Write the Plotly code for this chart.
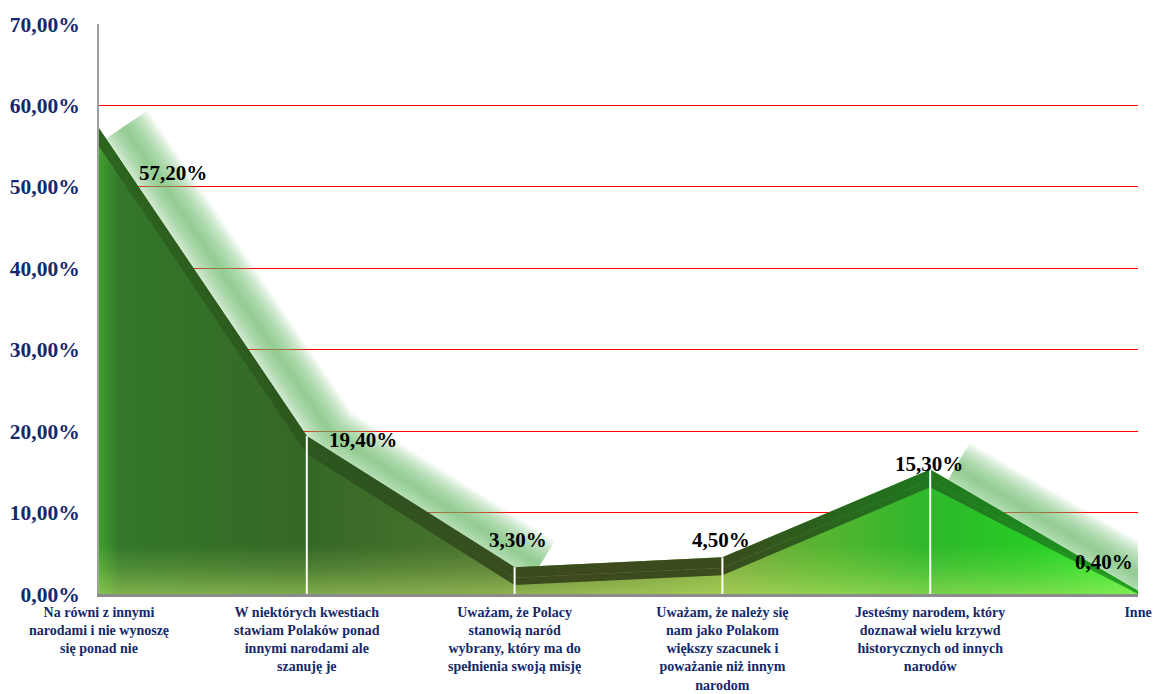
import plotly.graph_objects as go

# Survey answers (x axis) and share of responses in percent
categories = [
    "Na równi z innymi<br>narodami i nie wynoszę<br>się ponad nie",
    "W niektórych kwestiach<br>stawiam Polaków ponad<br>innymi narodami ale<br>szanuję je",
    "Uważam, że Polacy<br>stanowią naród<br>wybrany, który ma do<br>spełnienia swoją misję",
    "Uważam, że należy się<br>nam jako Polakom<br>większy szacunek i<br>poważanie niż innym<br>narodom",
    "Jesteśmy narodem, który<br>doznawał wielu krzywd<br>historycznych od innych<br>narodów",
    "Inne",
]
values = [57.2, 19.4, 3.3, 4.5, 15.3, 0.4]
value_labels = ["57,20%", "19,40%", "3,30%", "4,50%", "15,30%", "0,40%"]

y_ticks = [0, 10, 20, 30, 40, 50, 60, 70]
y_tick_labels = ["0,00%", "10,00%", "20,00%", "30,00%", "40,00%", "50,00%", "60,00%", "70,00%"]

x = list(range(len(values)))
NAVY = "#14296b"
SERIF = "Liberation Serif"

fig = go.Figure()

# Soft light-green glow to the upper right of the falling edges.
# Rising segments get no glow, so the path is broken there with None.
glow_x, glow_y = [], []
for i in range(len(values) - 1):
    if values[i + 1] < values[i]:
        if not glow_x or glow_x[-1] is None:
            glow_x.append(x[i] + 0.12)
            glow_y.append(values[i] + 0.2)
        glow_x.append(x[i + 1] + 0.12)
        glow_y.append(values[i + 1] + 0.2)
    else:
        glow_x.append(None)
        glow_y.append(None)

for width in range(58, 2, -3):
    fig.add_trace(go.Scatter(
        x=glow_x, y=glow_y, mode="lines", connectgaps=False,
        line=dict(color="rgba(110,185,110,0.062)", width=width),
        hoverinfo="skip", showlegend=False,
    ))

# Main area body with a left-to-right colour gradient
fig.add_trace(go.Scatter(
    x=x, y=values, mode="lines", fill="tozeroy",
    line=dict(width=0, color="rgba(0,0,0,0)"),
    fillgradient=dict(
        type="horizontal",
        colorscale=[
            [0.0, "#3fa02d"], [0.02, "#33762a"], [0.2, "#356826"],
            [0.38, "#4c7430"], [0.5, "#6a8d36"], [0.6, "#7ba83c"],
            [0.7, "#55b530"], [0.8, "#2db82a"], [0.9, "#27cc26"],
            [1.0, "#33f033"],
        ],
    ),
    hoverinfo="skip", showlegend=False,
))

# Lighter floor shading near the base (gradient fades out above 6 %)
fig.add_trace(go.Scatter(
    x=x, y=values, mode="lines", fill="tozeroy",
    line=dict(width=0, color="rgba(0,0,0,0)"),
    fillgradient=dict(
        type="vertical", start=0, stop=6,
        colorscale=[
            [0.0, "rgba(200,235,110,0.5)"],
            [0.5, "rgba(200,235,110,0.2)"],
            [1.0, "rgba(200,235,110,0.0)"],
        ],
    ),
    hoverinfo="skip", showlegend=False,
))

# Darker ridge band along the top edge: a solid upper strip and a softer lower one
ridge_scale = [
    [0.0, "#2c641f"], [0.25, "#2d541e"], [0.45, "#3d4a1e"],
    [0.6, "#3a4b1d"], [0.75, "#236e1e"], [0.9, "#1f861f"],
    [1.0, "#22a022"],
]
for top_off, bot_off, opacity in [(0.0, 1.3, 1.0), (1.3, 2.2, 0.45)]:
    fig.add_trace(go.Scatter(
        x=x, y=[max(v - top_off, 0) for v in values], mode="lines",
        line=dict(width=0, color="rgba(0,0,0,0)"),
        hoverinfo="skip", showlegend=False,
    ))
    fig.add_trace(go.Scatter(
        x=x, y=[max(v - bot_off, 0) for v in values], mode="lines", fill="tonexty",
        line=dict(width=0, color="rgba(0,0,0,0)"),
        fillgradient=dict(type="horizontal", colorscale=ridge_scale),
        opacity=opacity,
        hoverinfo="skip", showlegend=False,
    ))

# White drop lines at the inner categories
for xi, v in zip(x[1:-1], values[1:-1]):
    fig.add_trace(go.Scatter(
        x=[xi, xi], y=[0, v], mode="lines",
        line=dict(color="white", width=2),
        hoverinfo="skip", showlegend=False,
    ))

# Value labels
label_shift = [(74, -45), (56, -4), (3, 27), (-1, 17), (-1, 5), (-34, 29)]
for xi, v, txt, (dx, dy) in zip(x, values, value_labels, label_shift):
    fig.add_annotation(
        x=xi, y=v, text=f"<b>{txt}</b>", showarrow=False,
        xshift=dx, yshift=dy,
        font=dict(family=SERIF, size=21, color="black"),
    )

fig.update_layout(
    width=1153, height=694,
    margin=dict(l=99, r=15, t=24, b=100, autoexpand=False),
    paper_bgcolor="white", plot_bgcolor="white",
    showlegend=False,
    xaxis=dict(
        range=[0, 5], tickmode="array", tickvals=x,
        ticktext=[f"<b>{c}</b>" for c in categories],
        tickfont=dict(family=SERIF, size=14, color=NAVY),
        showgrid=False, zeroline=False, automargin=False,
        showline=True, linecolor="#8c8c8c", linewidth=3,
        ticks="", ticklabelstandoff=3,
    ),
    yaxis=dict(
        range=[0, 70], tickmode="array", tickvals=y_ticks,
        ticktext=[f"<b>{t}</b>" for t in y_tick_labels],
        tickfont=dict(family=SERIF, size=21.5, color=NAVY),
        showgrid=True, gridcolor="#ff0000", gridwidth=1,
        zeroline=False, automargin=False,
        showline=True, linecolor="#a0a0a0", linewidth=2,
        ticks="", ticklabelstandoff=13,
    ),
)

fig.write_html("out.html")
